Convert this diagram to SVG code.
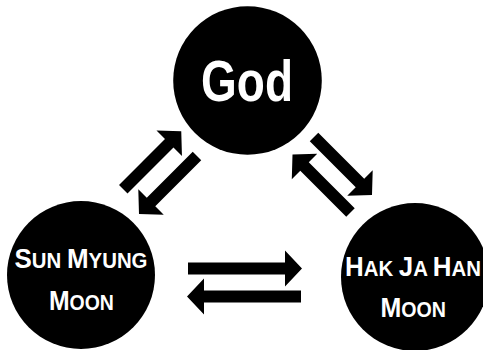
<svg xmlns="http://www.w3.org/2000/svg" xmlns:xlink="http://www.w3.org/1999/xlink" width="483" height="350" viewBox="0 0 483 350">
  <style>
    .node { fill: #000; }
    .lbl { fill: #fff; font-family: "Liberation Sans", Arial, sans-serif; font-weight: bold; text-anchor: middle; }
    .big { font-size: 28px; }
    .sm { font-size: 22px; }
    .arrow { fill: #000; }
  </style>
  <defs>
    <path id="arrowH" d="M0,0 L-17,-18 V-6 H-114 V6 H-17 V18 Z"/>
    <path id="arrowD" d="M0,0 L-17,-18 V-6 H-82 V6 H-17 V18 Z"/>
  </defs>
  <rect width="483" height="350" fill="#fff"/>
  <g id="connectors" class="arrow">
    <use xlink:href="#arrowH" transform="translate(302,268.5)"/>
    <use xlink:href="#arrowH" transform="translate(187,296.5) rotate(180)"/>
    <use xlink:href="#arrowD" transform="translate(181.25,131.25) rotate(-45)"/>
    <use xlink:href="#arrowD" transform="translate(139,214) rotate(135)"/>
    <use xlink:href="#arrowD" transform="translate(372,195) rotate(45)"/>
    <use xlink:href="#arrowD" transform="translate(292.5,154.5) rotate(-135)"/>
  </g>
  <g id="god">
    <circle class="node" cx="247.5" cy="80.5" r="74.3"/>
    <text class="lbl" x="247" y="101" font-size="57" textLength="92" lengthAdjust="spacingAndGlyphs">God</text>
  </g>
  <g id="sun-myung-moon">
    <circle class="node" cx="81" cy="275" r="74"/>
    <text class="lbl" x="81" y="268.3" textLength="133" lengthAdjust="spacingAndGlyphs"><tspan class="big">S</tspan><tspan class="sm">UN </tspan><tspan class="big">M</tspan><tspan class="sm">YUNG</tspan></text>
    <text class="lbl" x="81.4" y="310" textLength="65" lengthAdjust="spacingAndGlyphs"><tspan class="big">M</tspan><tspan class="sm">OON</tspan></text>
  </g>
  <g id="hak-ja-han-moon">
    <circle class="node" cx="415" cy="277" r="74"/>
    <text class="lbl" x="413" y="276" textLength="136" lengthAdjust="spacingAndGlyphs"><tspan class="big">H</tspan><tspan class="sm">AK </tspan><tspan class="big">J</tspan><tspan class="sm">A </tspan><tspan class="big">H</tspan><tspan class="sm">AN</tspan></text>
    <text class="lbl" x="413.3" y="317.3" textLength="65.5" lengthAdjust="spacingAndGlyphs"><tspan class="big">M</tspan><tspan class="sm">OON</tspan></text>
  </g>
</svg>
